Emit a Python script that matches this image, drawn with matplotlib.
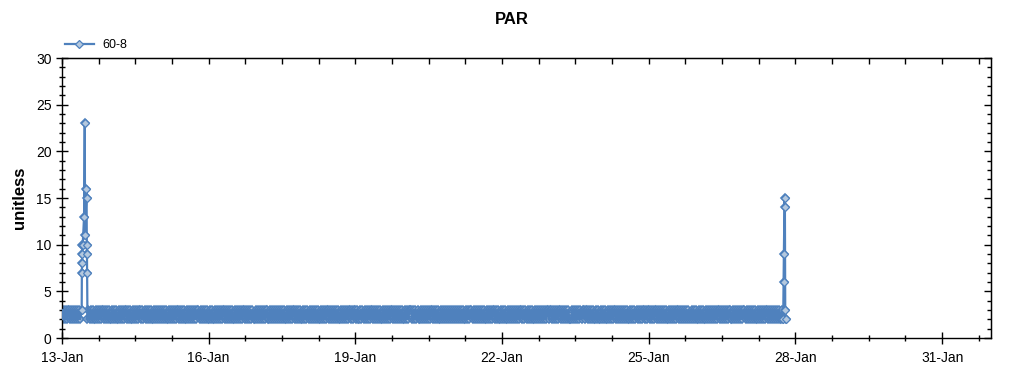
import matplotlib
matplotlib.use("Agg")
import matplotlib.pyplot as plt
import matplotlib.dates as mdates
from matplotlib.ticker import MultipleLocator, FixedLocator, NullFormatter
from matplotlib.lines import Line2D
from datetime import datetime, timedelta
import numpy as np

plt.rcParams["font.family"] = ["Liberation Sans", "DejaVu Sans"]

YEAR = 2015
SERIES_NAME = "60-8"
TITLE = "PAR"
Y_LABEL = "unitless"

# Half-hourly readings, one string per day starting 13-Jan ('.' = no reading in that slot)
band_first_day = 13
band_days = [
    "32323233 23232323 232..... .2323232 23232323 32323232",  # 13-Jan
    "23232322 32323233 23232232 32323323 23232323 22323232",  # 14-Jan
    "32323232 23232323 23323232 32232323 23232332 32323232",  # 15-Jan
    "23232232 32323233 23232323 22323232 32332323 23232232",  # 16-Jan
    "32323232 33223232 32323232 32322323 23233232 32322323",  # 17-Jan
    "23232323 23232232 32323323 23232323 22323232 32332323",  # 18-Jan
    "32322323 23232323 32323232 32232323 23233232 32323232",  # 19-Jan
    "23232333 23232322 32323232 32332323 23223232 32323232",  # 20-Jan
    "32323232 32322323 23323232 32323232 23232323 32323223",  # 21-Jan
    "23232232 32323232 32332323 23232322 32323232 32323323",  # 22-Jan
    "32323232 33232323 23222323 23232323 32332323 23223232",  # 23-Jan
    "23232322 32323233 23232323 23232232 32323232 32332323",  # 24-Jan
    "32323233 23232323 23223232 32323323 23232323 22323232",  # 25-Jan
    "23232322 32323232 32323323 23232323 32232323 23232332",  # 26-Jan
    "32323232 32232323 23233232 32323232 3223",               # 27-Jan
]

# Spike episodes (irregular readings)
spike1_times = ["2015-01-13 09:40", "2015-01-13 09:45", "2015-01-13 09:50", "2015-01-13 09:55",
                "2015-01-13 10:00", "2015-01-13 10:10", "2015-01-13 10:50", "2015-01-13 11:10",
                "2015-01-13 11:20", "2015-01-13 12:00", "2015-01-13 12:05", "2015-01-13 12:10",
                "2015-01-13 12:15", "2015-01-13 12:20"]
spike1_values = [3, 7, 8, 9, 10, 10, 13, 23, 11, 16, 15, 10, 9, 7]

spike2_times = ["2015-01-27 18:00", "2015-01-27 18:10", "2015-01-27 18:20", "2015-01-27 18:40",
                "2015-01-27 18:50", "2015-01-27 19:00", "2015-01-27 19:10"]
spike2_values = [2, 6, 9, 15, 14, 3, 2]

x_start = "2015-01-13"
x_end = "2015-02-01"
major_tick_dates = ["2015-01-13", "2015-01-16", "2015-01-19", "2015-01-22",
                    "2015-01-25", "2015-01-28", "2015-01-31"]
y_min, y_max = 0, 30

LINE_COLOR = "#4F81BD"
MARKER_FILL = "#B4C8DE"

# ---- assemble series ----
def parse(t):
    return datetime.strptime(t, "%Y-%m-%d %H:%M")

points = []
for di, s in enumerate(band_days):
    s = s.replace(" ", "")
    day0 = datetime(YEAR, 1, band_first_day + di)
    for k, ch in enumerate(s):
        if ch != ".":
            points.append((day0 + timedelta(minutes=30 * k), int(ch)))
spike_t, spike_v = [], []
for ts, vs in ((spike1_times, spike1_values), (spike2_times, spike2_values)):
    for t, v in zip(ts, vs):
        points.append((parse(t), v))
        spike_t.append(parse(t))
        spike_v.append(v)
points.sort(key=lambda p: p[0])
times = [p[0] for p in points]
values = [p[1] for p in points]

W, H = 1024, 375
fig = plt.figure(figsize=(W / 100, H / 100), dpi=100)
L, R, T, B = 62, 991, 58, 338
ax = fig.add_axes([L / W, 1 - B / H, (R - L) / W, (B - T) / H])

mk = dict(marker="D", ms=4.3, mfc=MARKER_FILL, mec=LINE_COLOR)
# markers underneath, connecting line over them, spike markers on top
ax.plot(times, values, ls="none", mew=1.2, zorder=2, **mk)
ax.plot(times, values, color=LINE_COLOR, lw=1.6, zorder=3)
ax.plot(spike_t, spike_v, ls="none", mew=0.9, zorder=4, **mk)

x0 = datetime.strptime(x_start, "%Y-%m-%d")
x1 = datetime.strptime(x_end, "%Y-%m-%d")
ax.set_xlim(x0, x1)
ax.set_ylim(y_min, y_max)

major_pos = [mdates.date2num(datetime.strptime(d, "%Y-%m-%d")) for d in major_tick_dates]
minor_pos = list(np.arange(mdates.date2num(x0), mdates.date2num(x1) + 1e-6, 0.75))
ax.xaxis.set_major_locator(FixedLocator(major_pos))
ax.xaxis.set_minor_locator(FixedLocator(minor_pos))
ax.xaxis.set_major_formatter(mdates.DateFormatter("%d-%b"))
ax.yaxis.set_major_locator(MultipleLocator(5))
ax.yaxis.set_minor_locator(MultipleLocator(1))

ax.tick_params(axis="both", which="major", direction="inout", length=9, width=1,
               labelsize=10, colors="black")
ax.tick_params(axis="both", which="minor", direction="inout", length=4, width=1)
ax.tick_params(axis="y", which="major", pad=3)
ax.tick_params(axis="x", which="major", pad=5)

for sp in ax.spines.values():
    sp.set_linewidth(1)
    sp.set_color("black")

# top and right: inward ticks, no labels
secx = ax.secondary_xaxis("top")
secx.xaxis.set_major_locator(FixedLocator(major_pos))
secx.xaxis.set_minor_locator(FixedLocator(minor_pos))
secx.xaxis.set_major_formatter(NullFormatter())
secx.tick_params(which="both", direction="in", length=4, width=1)
secy = ax.secondary_yaxis("right")
secy.yaxis.set_major_locator(MultipleLocator(5))
secy.yaxis.set_minor_locator(MultipleLocator(1))
secy.yaxis.set_major_formatter(NullFormatter())
secy.tick_params(which="major", direction="in", length=5, width=1)
secy.tick_params(which="minor", direction="in", length=3, width=1)

ax.set_ylabel(Y_LABEL, fontsize=12, fontweight="bold")
ax.yaxis.set_label_coords(-(L - 27) / (R - L), 0.5)

fig.text(0.5, 1 - 19 / H, TITLE, ha="center", va="center", fontsize=12, fontweight="bold")

handle = Line2D([], [], color=LINE_COLOR, lw=1.6, mew=0.9, **mk)
fig.legend([handle], [SERIES_NAME], loc="center left", bbox_to_anchor=(65 / W, 1 - 45 / H),
           frameon=False, fontsize=9, handlelength=2.3, handletextpad=0.7, borderpad=0,
           borderaxespad=0, numpoints=1)

fig.savefig("out.png", dpi=100, facecolor="white")
